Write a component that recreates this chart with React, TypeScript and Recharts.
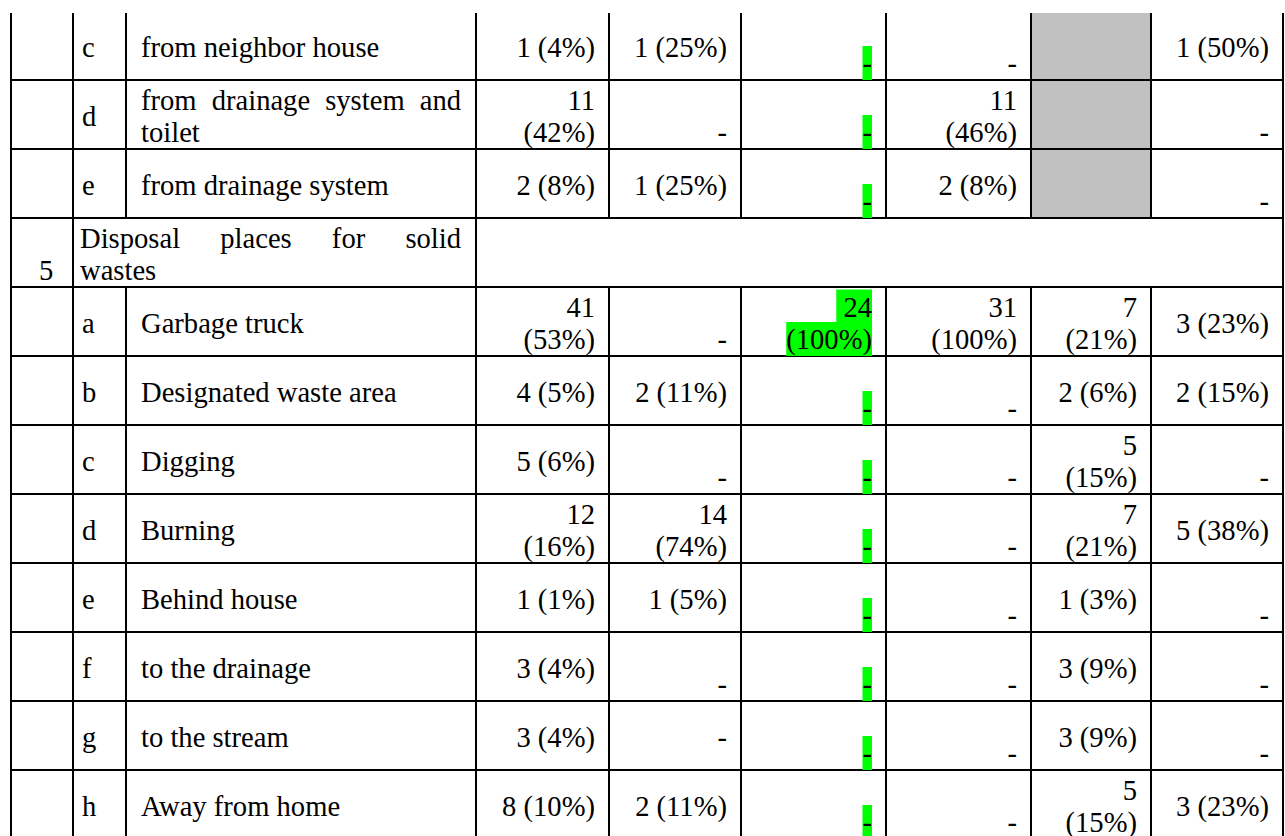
import { ScatterChart, Scatter, XAxis, YAxis, ReferenceLine, ReferenceArea } from 'recharts';

document.body.style.margin = '0';

// upper part of the table (rows c–e of the previous question)
const topCodes = ['c', 'd', 'e'];
const topItems = ['from neighbor house', 'from drainage system and\ntoilet', 'from drainage system'];

// section 5
const sectionNo = '5';
const sectionTitle = 'Disposal places for solid\nwastes';
const wasteCodes = ['a', 'b', 'c', 'd', 'e', 'f', 'g', 'h'];
const wasteItems = [
  'Garbage truck',
  'Designated waste area',
  'Digging',
  'Burning',
  'Behind house',
  'to the drainage',
  'to the stream',
  'Away from home',
];

// value columns, rows c, d, e, then a–h ("\n-" = dash on the lower line, null = shaded cell)
const col1 = ['1 (4%)', '11\n(42%)', '2 (8%)', '41\n(53%)', '4 (5%)', '5 (6%)', '12\n(16%)', '1 (1%)', '3 (4%)', '3 (4%)', '8 (10%)'];
const col2 = ['1 (25%)', '\n-', '1 (25%)', '\n-', '2 (11%)', '\n-', '14\n(74%)', '1 (5%)', '\n-', '-', '2 (11%)'];
const col3 = ['\n-', '\n-', '\n-', '24\n(100%)', '\n-', '\n-', '\n-', '\n-', '\n-', '\n-', '\n-'];
const col4 = ['\n-', '11\n(46%)', '2 (8%)', '31\n(100%)', '\n-', '\n-', '\n-', '\n-', '\n-', '\n-', '\n-'];
const col5 = [null, null, null, '7\n(21%)', '2 (6%)', '5\n(15%)', '7\n(21%)', '1 (3%)', '3 (9%)', '3 (9%)', '5\n(15%)'];
const col6 = ['1 (50%)', '\n-', '\n-', '3 (23%)', '2 (15%)', '\n-', '5 (38%)', '\n-', '\n-', '\n-', '3 (23%)'];
const valueCols = [col1, col2, col3, col4, col5, col6];
const highlightCol = 2;
const shadedCol = 4;

// layout
const W = 1285;
const H = 836;
const ROW_TOP = 11;
const ROW_H = 69;
const FONT = 28.6;
const FAMILY = '"Liberation Serif", "Times New Roman", serif';
const X_LEFT = 11;
const X_CODE = 73;
const X_ITEM = 126;
const X_VALUES = [476, 609, 741, 886, 1031, 1151, 1283];
const SINGLE = 46;
const LINE1 = 29.5;
const LINE2 = 62;
const SECTION_ROW = 3;
const Y_TOP = (13 - ROW_TOP) / ROW_H;
const Y_BOT = (H - ROW_TOP) / ROW_H;

let ctx: CanvasRenderingContext2D | null = null;
const measure = (s: string) => {
  if (!ctx) ctx = document.createElement('canvas').getContext('2d');
  ctx!.font = `${FONT}px "Liberation Serif"`;
  return ctx!.measureText(s).width;
};

type CellPoint = {
  x: number;
  y: number;
  lines: string[];
  anchor: 'start' | 'end';
  justify?: number;
  green?: boolean;
};

const cells: CellPoint[] = [];
const rowIndex = (i: number) => (i < topCodes.length ? i : i + 1);

[...topCodes, ...wasteCodes].forEach((code, i) => {
  const r = rowIndex(i);
  const item = [...topItems, ...wasteItems][i];
  cells.push({ x: 82, y: r, lines: [code], anchor: 'start' });
  cells.push({ x: X_ITEM + 15, y: r, lines: item.split('\n'), anchor: 'start', justify: 320 });
  valueCols.forEach((col, c) => {
    const v = col[i];
    if (v == null) return;
    cells.push({
      x: X_VALUES[c + 1] - 14,
      y: r,
      lines: v.split('\n'),
      anchor: 'end',
      green: c === highlightCol,
    });
  });
});
cells.push({ x: 39, y: SECTION_ROW, lines: ['', sectionNo], anchor: 'start' });
cells.push({ x: 80, y: SECTION_ROW, lines: sectionTitle.split('\n'), anchor: 'start', justify: 381 });

const CellText = (props: any) => {
  const { cx, cy, payload } = props;
  const p = payload as CellPoint;
  const ys = p.lines.length === 1 ? [SINGLE] : [LINE1, LINE2];
  return (
    <g>
      {p.lines.map((ln, i) => {
        if (!ln) return null;
        const base = cy + ys[i];
        const isLast = i === p.lines.length - 1;
        const w = measure(isLast ? ln : ln + ' ');
        let wordSpacing = 0;
        if (p.justify && !isLast) {
          const spaces = ln.split(' ').length - 1;
          if (spaces > 0) wordSpacing = (p.justify - measure(ln)) / spaces;
        }
        return (
          <g key={i}>
            {p.green && (
              <rect x={p.anchor === 'end' ? cx - w : cx} y={base - 27} width={w} height={34} fill="#00ff00" />
            )}
            <text
              x={cx}
              y={base}
              textAnchor={p.anchor}
              fontSize={FONT}
              fontFamily={FAMILY}
              fill="#000"
              style={{ wordSpacing: `${wordSpacing}px` }}
            >
              {ln}
            </text>
          </g>
        );
      })}
    </g>
  );
};

// vertical rules: some stop at the merged section row
const fullRules = [X_LEFT, X_CODE, X_VALUES[0], X_VALUES[X_VALUES.length - 1]];
const brokenRules = [X_ITEM, ...X_VALUES.slice(1, -1)];
const rowRules = Array.from({ length: 11 }, (_, i) => i + 1);

export default function App() {
  return (
    <div style={{ width: W, height: H, background: '#fff' }}>
      <ScatterChart width={W} height={H} margin={{ top: 0, right: 0, bottom: 0, left: 0 }}>
        <XAxis type="number" dataKey="x" domain={[0, W]} hide allowDataOverflow />
        <YAxis
          type="number"
          dataKey="y"
          domain={[-ROW_TOP / ROW_H, Y_BOT]}
          reversed
          hide
          allowDataOverflow
        />
        <ReferenceArea
          x1={X_VALUES[shadedCol]}
          x2={X_VALUES[shadedCol + 1]}
          y1={Y_TOP}
          y2={SECTION_ROW}
          fill="#c0c0c0"
          fillOpacity={1}
          stroke="none"
        />
        <Scatter data={cells} shape={CellText} isAnimationActive={false} />
        {rowRules.map((r) => (
          <ReferenceLine
            key={`h${r}`}
            segment={[{ x: X_LEFT, y: r }, { x: X_VALUES[X_VALUES.length - 1], y: r }]}
            stroke="#000"
            strokeWidth={2}
          />
        ))}
        {fullRules.map((x) => (
          <ReferenceLine
            key={`v${x}`}
            segment={[{ x, y: Y_TOP }, { x, y: Y_BOT }]}
            stroke="#000"
            strokeWidth={2}
          />
        ))}
        {brokenRules.map((x) => (
          <ReferenceLine
            key={`a${x}`}
            segment={[{ x, y: Y_TOP }, { x, y: SECTION_ROW }]}
            stroke="#000"
            strokeWidth={2}
          />
        ))}
        {brokenRules.map((x) => (
          <ReferenceLine
            key={`b${x}`}
            segment={[{ x, y: SECTION_ROW + 1 }, { x, y: Y_BOT }]}
            stroke="#000"
            strokeWidth={2}
          />
        ))}
      </ScatterChart>
    </div>
  );
}
